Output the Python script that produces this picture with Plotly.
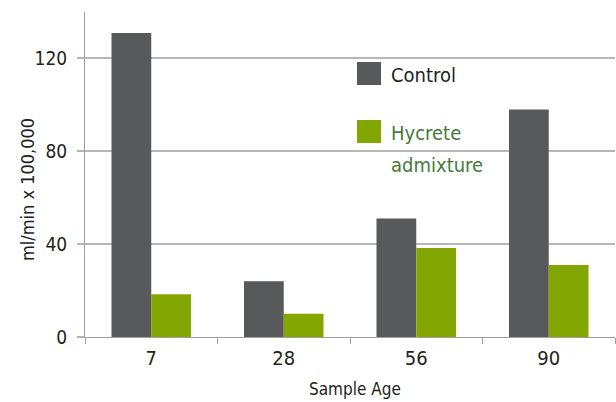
import plotly.graph_objects as go

categories = ["7", "28", "56", "90"]
control = [131, 24, 51, 98]
hycrete = [18.4, 10, 38.3, 31]
series_names = ["Control", "Hycrete", "admixture"]
y_ticks = [0, 40, 80, 120]

FONT = "DejaVu Sans Condensed, DejaVu Sans, sans-serif"
C_CTRL = "#58595b"
C_HYC = "#84a600"
GRID = "#b6b6b6"
AXIS = "#a0a0a0"
TXT = "#231f20"
GTXT = "#467a3a"

fig = go.Figure()
fig.add_trace(go.Bar(x=categories, y=control, name="Control", marker_color=C_CTRL,
                     marker_line_width=0, showlegend=False))
fig.add_trace(go.Bar(x=categories, y=hycrete, name="Hycrete admixture", marker_color=C_HYC,
                     marker_line_width=0, showlegend=False))

W, H = 616, 402
L, R, T, B = 85, 1, 12, 65

fig.update_layout(
    width=W, height=H,
    margin=dict(l=L, r=R, t=T, b=B, autoexpand=False),
    plot_bgcolor="white", paper_bgcolor="white",
    barmode="group", bargap=0.4, bargroupgap=0,
    font=dict(family=FONT, size=19, color=TXT),
    xaxis=dict(type="category", range=[-0.5, 3.5],
               tickson="boundaries", ticks="outside", ticklen=6, tickwidth=1,
               tickcolor=AXIS, showline=True, linecolor=AXIS, linewidth=1,
               showgrid=False, zeroline=False, ticklabelstandoff=3,
               tickfont=dict(family=FONT, size=20, color=TXT)),
    yaxis=dict(range=[0, 140], tickvals=y_ticks, ticktext=[str(v) for v in y_ticks],
               ticks="outside", ticklen=7, tickcolor=GRID, tickwidth=1.5,
               showgrid=True, gridcolor=GRID, gridwidth=1.5,
               showline=True, linecolor=AXIS, linewidth=1,
               zeroline=False, ticklabelstandoff=6,
               tickfont=dict(family=FONT, size=19, color=TXT)),
)

pw, ph = W - L - R, H - T - B
def px_x(x):
    return (x - L) / pw
def px_y(y):
    return ((H - B) - y) / ph

# axis titles
fig.add_annotation(text="Sample Age", xref="paper", yref="paper",
                   x=px_x(355), y=px_y(389),
                   showarrow=False, font=dict(family=FONT, size=17, color=TXT),
                   xanchor="center", yanchor="middle")
fig.add_annotation(text="ml/min x 100,000", xref="paper", yref="paper",
                   x=px_x(27), y=px_y(190),
                   textangle=-90, showarrow=False,
                   font=dict(family=FONT, size=18, color=TXT),
                   xanchor="center", yanchor="middle")

# legend (manual)
fig.add_shape(type="rect", xref="paper", yref="paper",
              x0=px_x(357), x1=px_x(381), y0=px_y(85), y1=px_y(62),
              fillcolor=C_CTRL, line_width=0)
fig.add_shape(type="rect", xref="paper", yref="paper",
              x0=px_x(357), x1=px_x(381), y0=px_y(143), y1=px_y(120),
              fillcolor=C_HYC, line_width=0)
for text, col, yc in [(series_names[0], TXT, 75),
                      (series_names[1], GTXT, 133),
                      (series_names[2], GTXT, 165)]:
    fig.add_annotation(text=text, xref="paper", yref="paper",
                       x=px_x(389), y=px_y(yc), xanchor="left", yanchor="middle",
                       showarrow=False, font=dict(family=FONT, size=20, color=col))

fig.write_html("out.html", config={"displayModeBar": False},
               post_script="document.body.style.margin='0';")
